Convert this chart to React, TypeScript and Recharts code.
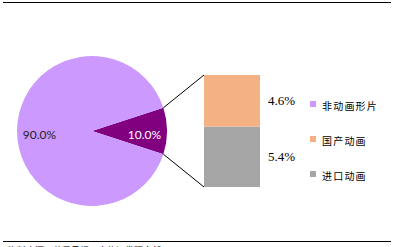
import React from "react";
import {
  PieChart,
  Pie,
  Cell,
  BarChart,
  Bar,
  XAxis,
  YAxis,
  LabelList,
} from "recharts";

// 电影票房结构：非动画 vs 动画，动画再拆成国产/进口
const pieNames = ["动画电影", "非动画形片"];
const pieValues = [10.0, 90.0];
const barNames = ["进口动画", "国产动画"];
const barValues = [5.4, 4.6];
const legendNames = ["非动画形片", "国产动画", "进口动画"];

const PIE_COLORS = ["#800080", "#CC99FF"];
const BAR_COLORS = ["#A6A6A6", "#F4B183"];
const LEGEND_COLORS = ["#CC99FF", "#F4B183", "#A6A6A6"];

const W = 399;
const H = 247;
const PIE_CX = 92;
const PIE_CY = 131;
const PIE_R = 75;
const BAR_LEFT = 204;
const BAR_TOP = 75;
const BAR_W = 56;
const BAR_H = 112;

const pieData = pieNames.map((name, i) => ({ name, value: pieValues[i] }));
const pieTotal = pieValues.reduce((a, b) => a + b, 0);
const halfAngle = ((pieValues[0] / pieTotal) * 360) / 2;

const barRow: Record<string, string | number> = { name: "动画" };
barNames.forEach((n, i) => {
  barRow[n] = barValues[i];
});
const barData = [barRow];
const barMax = barValues.reduce((a, b) => a + b, 0);

const RAD = Math.PI / 180;

function renderPieLabel(props: any) {
  const { cx, cy, midAngle, outerRadius, value, index } = props;
  const r = outerRadius * 0.7;
  const x = cx + r * Math.cos(-midAngle * RAD);
  const y = cy + r * Math.sin(-midAngle * RAD);
  return (
    <text
      x={x}
      y={y + 3}
      textAnchor="middle"
      dominantBaseline="central"
      fontFamily="Lato"
      fontSize={12}
      fill={index === 0 ? "#ffffff" : "#222222"}
    >
      {`${(value as number).toFixed(1)}%`}
    </text>
  );
}

export default function App() {
  const ex = PIE_CX + PIE_R * Math.cos(halfAngle * RAD);
  const eyTop = PIE_CY - PIE_R * Math.sin(halfAngle * RAD);
  const eyBot = PIE_CY + PIE_R * Math.sin(halfAngle * RAD);

  return (
    <div
      style={{
        position: "absolute",
        left: 0,
        top: 0,
        width: W,
        height: H,
        overflow: "hidden",
        background: "#fff",
      }}
    >
      <div
        style={{
          position: "absolute",
          left: 3,
          top: 2,
          width: 388,
          height: 1,
          background: "#000",
        }}
      />
      <div style={{ position: "absolute", left: 0, top: 0 }}>
        <PieChart
          width={W}
          height={H}
          margin={{ top: 0, right: 0, bottom: 0, left: 0 }}
        >
          <Pie
            data={pieData}
            dataKey="value"
            cx={PIE_CX}
            cy={PIE_CY}
            outerRadius={PIE_R}
            startAngle={-halfAngle}
            endAngle={360 - halfAngle}
            stroke="none"
            label={renderPieLabel}
            labelLine={false}
            isAnimationActive={false}
          >
            {pieData.map((_, i) => (
              <Cell key={i} fill={PIE_COLORS[i]} />
            ))}
          </Pie>
        </PieChart>
      </div>
      <div style={{ position: "absolute", left: BAR_LEFT, top: BAR_TOP }}>
        <BarChart
          width={BAR_W + 70}
          height={BAR_H}
          data={barData}
          margin={{ top: 0, right: 70, bottom: 0, left: 0 }}
          barCategoryGap={0}
        >
          <XAxis dataKey="name" hide />
          <YAxis hide domain={[0, barMax]} />
          {barNames.map((n, i) => (
            <Bar
              key={n}
              dataKey={n}
              stackId="a"
              fill={BAR_COLORS[i]}
              isAnimationActive={false}
            >
              <LabelList
                dataKey={n}
                position="right"
                offset={8}
                formatter={(v: any) => `${Number(v).toFixed(1)}%`}
                style={{
                  fontFamily: "Liberation Serif",
                  fontSize: 13,
                  fill: "#000",
                }}
              />
            </Bar>
          ))}
        </BarChart>
      </div>
      <svg
        width={W}
        height={H}
        style={{ position: "absolute", left: 0, top: 0 }}
      >
        <line
          x1={ex}
          y1={eyTop}
          x2={BAR_LEFT}
          y2={BAR_TOP}
          stroke="#000"
          strokeWidth={1}
        />
        <line
          x1={ex}
          y1={eyBot}
          x2={BAR_LEFT}
          y2={BAR_TOP + BAR_H}
          stroke="#000"
          strokeWidth={1}
        />
      </svg>
      <div style={{ position: "absolute", left: 310, top: 88 }}>
        {legendNames.map((n, i) => (
          <div
            key={n}
            style={{
              display: "flex",
              alignItems: "center",
              height: 35,
            }}
          >
            <span
              style={{
                width: 6,
                height: 6,
                background: LEGEND_COLORS[i],
                marginRight: 6,
                marginTop: -3,
              }}
            />
            <span
              style={{
                fontFamily: "Noto Sans CJK SC",
                fontSize: 10,
                letterSpacing: 1.2,
                color: "#000",
                lineHeight: "10px",
              }}
            >
              {n}
            </span>
          </div>
        ))}
      </div>
      <div
        style={{
          position: "absolute",
          left: 3,
          top: 241,
          width: 388,
          height: 1,
          background: "#000",
        }}
      />
      <div
        style={{
          position: "absolute",
          left: 8,
          top: 246,
          fontFamily: "Noto Sans CJK SC",
          fontSize: 9,
          lineHeight: "10px",
          color: "#000",
          whiteSpace: "nowrap",
        }}
      >
        资料来源：艺恩日报，中信证券研究部
      </div>
    </div>
  );
}
